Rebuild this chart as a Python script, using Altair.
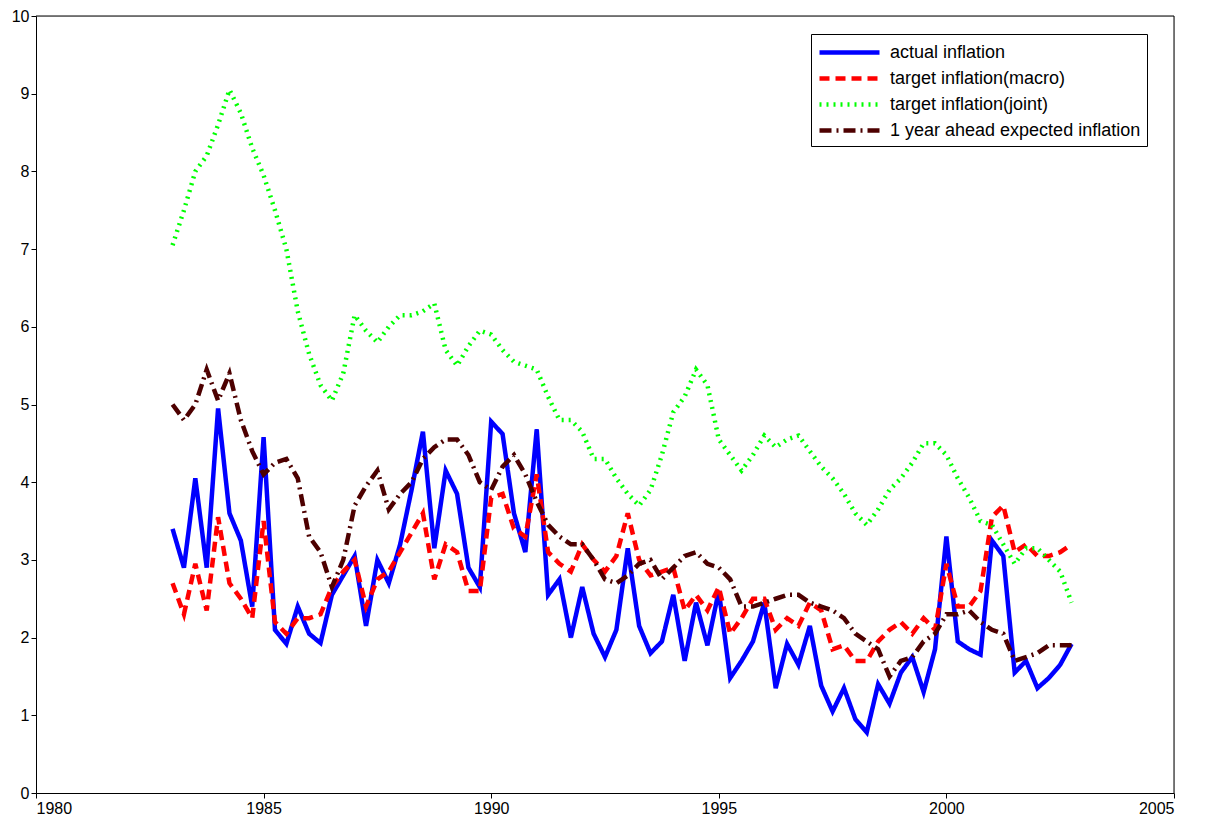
import altair as alt
import pandas as pd

years = [1983 + 0.25 * i for i in range(80)]

actual = [3.4, 2.9, 4.05, 2.9, 4.95, 3.6, 3.25, 2.4, 4.58, 2.1, 1.92, 2.4, 2.05, 1.93, 2.55, 2.8,
          3.05, 2.15, 3.0, 2.7, 3.2, 3.9, 4.65, 3.15, 4.15, 3.85, 2.9, 2.65, 4.78, 4.62, 3.6, 3.1,
          4.68, 2.55, 2.75, 2.0, 2.65, 2.05, 1.75, 2.1, 3.15, 2.15, 1.8, 1.95, 2.55, 1.7, 2.45, 1.9,
          2.6, 1.48, 1.7, 1.95, 2.45, 1.35, 1.92, 1.65, 2.15, 1.38, 1.05, 1.35, 0.95, 0.78, 1.4, 1.15,
          1.55, 1.75, 1.3, 1.85, 3.3, 1.95, 1.85, 1.78, 3.25, 3.05, 1.55, 1.7, 1.35, 1.48, 1.65, 1.92]
macro = [2.7, 2.3, 2.95, 2.35, 3.55, 2.7, 2.5, 2.25, 3.5, 2.2, 2.05, 2.25, 2.25, 2.3, 2.65, 2.85,
         3.0, 2.4, 2.75, 2.85, 3.1, 3.35, 3.6, 2.75, 3.2, 3.1, 2.6, 2.6, 3.8, 3.85, 3.4, 3.3,
         4.1, 3.1, 2.95, 2.85, 3.2, 3.0, 2.85, 3.05, 3.6, 3.0, 2.8, 2.85, 2.9, 2.35, 2.55, 2.35,
         2.65, 2.05, 2.25, 2.5, 2.5, 2.1, 2.25, 2.15, 2.45, 2.35, 1.85, 1.9, 1.7, 1.7, 1.95, 2.1,
         2.2, 2.05, 2.25, 2.1, 2.95, 2.4, 2.4, 2.6, 3.55, 3.7, 3.1, 3.2, 3.05, 3.05, 3.1, 3.2]
joint = [7.05, 7.5, 8.0, 8.2, 8.6, 9.05, 8.75, 8.3, 7.95, 7.5, 7.0, 6.2, 5.65, 5.25, 5.05, 5.4,
         6.15, 5.95, 5.8, 6.0, 6.15, 6.15, 6.2, 6.3, 5.7, 5.5, 5.75, 5.95, 5.9, 5.7, 5.55, 5.5,
         5.45, 5.1, 4.8, 4.8, 4.65, 4.3, 4.3, 4.05, 3.85, 3.7, 3.9, 4.35, 4.9, 5.1, 5.45, 5.25,
         4.55, 4.35, 4.15, 4.35, 4.6, 4.45, 4.55, 4.6, 4.4, 4.2, 4.05, 3.85, 3.6, 3.45, 3.65, 3.9,
         4.05, 4.25, 4.5, 4.5, 4.35, 4.05, 3.8, 3.5, 3.45, 3.2, 2.95, 3.15, 3.15, 3.0, 2.85, 2.45]
expected = [5.0, 4.8, 5.0, 5.45, 5.05, 5.4, 4.8, 4.4, 4.1, 4.25, 4.3, 4.05, 3.3, 3.1, 2.65, 3.0,
            3.7, 3.95, 4.15, 3.65, 3.85, 4.0, 4.3, 4.45, 4.55, 4.55, 4.35, 4.0, 3.9, 4.2, 4.35, 4.1,
            3.75, 3.45, 3.3, 3.2, 3.2, 3.0, 2.75, 2.7, 2.8, 2.95, 3.0, 2.75, 2.9, 3.05, 3.1, 2.95,
            2.9, 2.75, 2.4, 2.4, 2.45, 2.5, 2.55, 2.55, 2.45, 2.4, 2.35, 2.25, 2.05, 1.95, 1.85, 1.5,
            1.7, 1.75, 1.95, 2.05, 2.3, 2.3, 2.35, 2.2, 2.1, 2.05, 1.7, 1.75, 1.8, 1.9, 1.9, 1.9]

names = ["actual inflation", "target inflation(macro)", "target inflation(joint)",
         "1 year ahead expected inflation"]
colors = ["#0000ff", "#ff0000", "#00ff00", "#4d0000"]
dashes = [[1, 0], [10, 6], [2, 5], [12, 5, 2, 5]]
widths = [4.5, 4.5, 1.5, 4]

frames = []
for name, vals in zip(names, [actual, macro, joint, expected]):
    frames.append(pd.DataFrame({"year": years, "value": vals, "series": name}))
df = pd.concat(frames)

font = "Liberation Sans"

lines = (
    alt.Chart(df)
    .mark_line(clip=True)
    .encode(
        x=alt.X("year:Q", scale=alt.Scale(domain=[1980, 2005], nice=False),
                axis=alt.Axis(title=None, values=list(range(1980, 2006, 5)), format="d",
                              grid=False, tickColor="black", domainColor="black",
                              labelFontSize=16, labelColor="black", labelFont=font)),
        y=alt.Y("value:Q", scale=alt.Scale(domain=[0, 10], nice=False),
                axis=alt.Axis(title=None, values=list(range(0, 11)), grid=False,
                              tickColor="black", domainColor="black",
                              labelFontSize=16, labelColor="black", labelFont=font)),
        color=alt.Color("series:N", sort=names,
                        scale=alt.Scale(domain=names, range=colors),
                        legend=alt.Legend(title=None, orient="none", legendX=775, legendY=18,
                                          symbolType="M-1,0H5", symbolSize=400,
                                          symbolFillColor="transparent",
                                          labelOffset=48,
                                          labelFontSize=18, labelFont=font, labelColor="black",
                                          strokeColor="black", fillColor="white",
                                          padding=6, rowPadding=4, labelLimit=400)),
        strokeDash=alt.StrokeDash("series:N", sort=names,
                                  scale=alt.Scale(domain=names, range=dashes), legend=None),
        strokeWidth=alt.StrokeWidth("series:N", sort=names,
                                    scale=alt.Scale(domain=names, range=widths), legend=None),
        detail="series:N",
    )
)

box = pd.DataFrame({"x0": [1980], "y0": [10]})
top = alt.Chart(box).mark_rule(color="black", strokeWidth=1).encode(
    x=alt.value(0), x2=alt.value(1138), y=alt.value(0))
right = alt.Chart(box).mark_rule(color="black", strokeWidth=1).encode(
    x=alt.value(1138), y=alt.value(0), y2=alt.value(777))

chart = (
    alt.layer(lines, top, right)
    .properties(width=1138, height=777, padding={"left": 3, "top": 0, "right": 16, "bottom": 5})
    .configure_view(stroke="black", strokeWidth=1)
    .configure(background="white")
)

chart.save("out.html", embed_options={"renderer": "svg", "actions": False})
